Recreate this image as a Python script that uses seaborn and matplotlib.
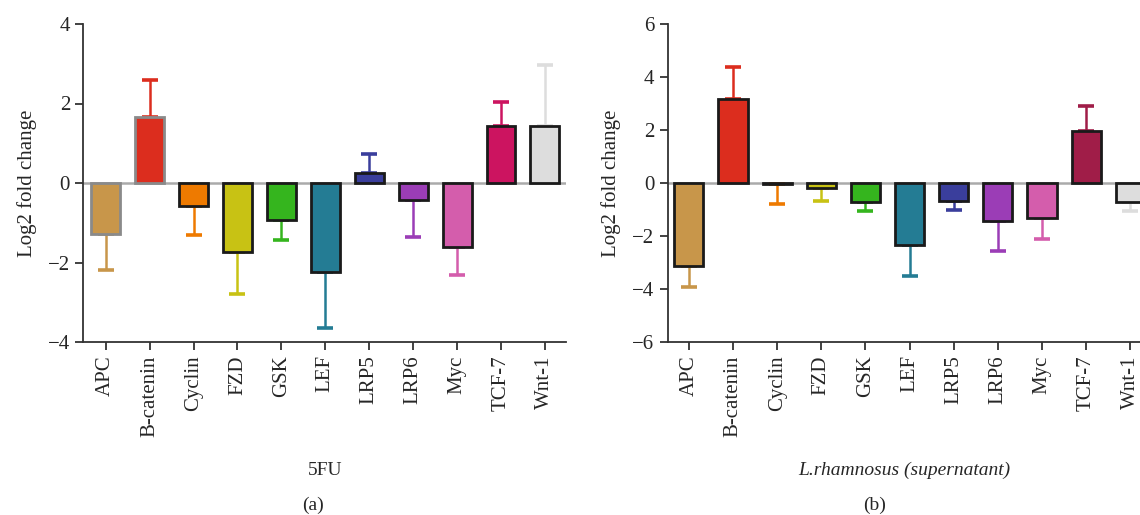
import numpy as np
import pandas as pd
import matplotlib
matplotlib.use("Agg")
import matplotlib.pyplot as plt
import seaborn as sns

genes = ["APC", "B-catenin", "Cyclin", "FZD", "GSK", "LEF", "LRP5", "LRP6", "Myc", "TCF-7", "Wnt-1"]
fu_values = [-1.28, 1.66, -0.58, -1.74, -0.93, -2.23, 0.24, -0.42, -1.61, 1.44, 1.44]
fu_err = [0.91, 0.94, 0.72, 1.06, 0.51, 1.43, 0.48, 0.94, 0.71, 0.59, 1.54]
lr_values = [-3.13, 3.16, -0.05, -0.20, -0.70, -2.35, -0.67, -1.42, -1.33, 1.96, -0.70]
lr_err = [0.81, 1.20, 0.73, 0.48, 0.36, 1.16, 0.33, 1.16, 0.80, 0.93, 0.36]

colors_a = ["#C8964A", "#DC2D1E", "#EE7A00", "#C8C214", "#35B51E", "#247C94",
            "#3A3E9C", "#9B3DB6", "#D45DAC", "#CC1460", "#DDDDDD"]
colors_b = ["#C8964A", "#DC2D1E", "#EE7A00", "#C8C214", "#35B51E", "#247C94",
            "#3A3E9C", "#9B3DB6", "#D45DAC", "#A01D48", "#DDDDDD"]
edges_a = ["#8A8A8A", "#8A8A8A"] + ["#1A1A1A"] * 9
edges_b = ["#1A1A1A"] * 11

sns.set_theme(style="ticks")
plt.rcParams["font.family"] = ["Liberation Serif", "DejaVu Serif"]

W, H = 1140, 515
fig = plt.figure(figsize=(W / 100, H / 100), dpi=100)
ax1 = fig.add_axes([83.3 / W, 1 - 342 / H, (566 - 83.3) / W, 318 / H])
ax2 = fig.add_axes([667.7 / W, 1 - 342 / H, (1140 - 667.7) / W, 318 / H])


def draw(ax, values, errs, colors, edges, ylim, yticks, xlim):
    df = pd.DataFrame({"gene": genes, "value": values})
    ax.axhline(0, color="#AAAAAA", lw=1.8, zorder=0)
    sns.barplot(data=df, x="gene", y="value", hue="gene", palette=colors,
                order=genes, hue_order=genes, legend=False, errorbar=None,
                width=0.66, ax=ax, zorder=3, dodge=False, saturation=1)
    for patch, ec in zip(ax.patches, edges):
        patch.set_edgecolor(ec)
        patch.set_linewidth(2.0)
        patch.set_clip_on(True)
    for i, (v, e, c) in enumerate(zip(values, errs, colors)):
        yerr = [[0], [e]] if v >= 0 else [[e], [0]]
        ax.errorbar([i], [v], yerr=yerr, fmt="none", ecolor=c, elinewidth=1.8,
                    capsize=6, capthick=2.6, zorder=2)
    ax.set_ylim(*ylim)
    ax.set_yticks(yticks)
    ax.set_yticklabels([("\u2212" + str(abs(t))) if t < 0 else str(t) for t in yticks])
    ax.set_xlim(*xlim)
    ax.set_ylabel("Log2 fold change", fontsize=15, labelpad=8)
    ax.tick_params(axis="x", rotation=90, labelsize=15, length=6, width=1.3, color="#333333")
    ax.tick_params(axis="y", labelsize=15, length=6, width=1.3, color="#333333")
    for s in ["top", "right"]:
        ax.spines[s].set_visible(False)
    for s in ["left", "bottom"]:
        ax.spines[s].set_linewidth(1.3)
        ax.spines[s].set_color("#333333")


draw(ax1, fu_values, fu_err, colors_a, edges_a, (-4, 4), [-4, -2, 0, 2, 4], (-0.51, 10.48))
draw(ax2, lr_values, lr_err, colors_b, edges_b, (-6, 6), [-6, -4, -2, 0, 2, 4, 6], (-0.48, 10.22))

ax1.set_xlabel("5FU", fontsize=14, labelpad=18)
ax2.set_xlabel("L.rhamnosus (supernatant)", fontsize=14, labelpad=18, fontstyle="italic")

fig.text(0.2745, 1 - 505 / H, "(a)", ha="center", va="center", fontsize=14)
fig.text(0.7675, 1 - 505 / H, "(b)", ha="center", va="center", fontsize=14)

fig.savefig("out.png", dpi=100)
